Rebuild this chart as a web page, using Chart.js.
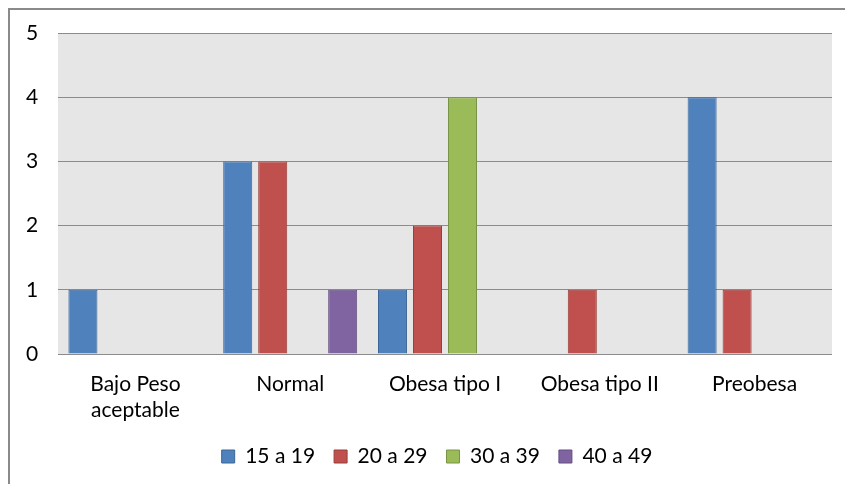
<!DOCTYPE html>
<html>
<head>
<meta charset="utf-8">
<script src="https://cdn.jsdelivr.net/npm/chart.js@4"></script>
<style>
html,body{margin:0;padding:0;background:#fff;overflow:hidden;}
#wrap{position:relative;width:845px;height:484px;}
#frame{position:absolute;left:8px;top:8px;width:900px;height:600px;border:2px solid #8a8a8a;box-sizing:border-box;}
canvas{position:absolute;left:0;top:0;}
</style>
</head>
<body>
<div id="wrap">
<div id="frame"></div>
<canvas id="c" width="845" height="484"></canvas>
</div>
<script>
const categories = [["Bajo Peso","aceptable"], "Normal", "Obesa tipo I", "Obesa tipo II", "Preobesa"];
const seriesNames = ["15 a 19", "20 a 29", "30 a 39", "40 a 49"];
const s15a19 = [1, 3, 1, 0, 4];
const s20a29 = [0, 3, 2, 1, 1];
const s30a39 = [0, 0, 4, 0, 0];
const s40a49 = [0, 1, 0, 0, 0];
const yTicks = [0, 1, 2, 3, 4, 5];

const fills = ["#4F81BD", "#C0504D", "#9BBB59", "#8064A2"];
const borders = ["#3C6698", "#9A3D3A", "#7A9447", "#654E82"];
const values = [s15a19, s20a29, s30a39, s40a49];

const plotBg = {
  id: 'plotBg',
  beforeDraw(chart) {
    const {ctx, chartArea: a} = chart;
    ctx.save();
    ctx.fillStyle = '#E6E6E6';
    ctx.fillRect(a.left, a.top, a.right - a.left, a.bottom - a.top);
    ctx.restore();
  }
};

const FONT = "Lato";
const FS = 21;
new Chart(document.getElementById('c'), {
  type: 'bar',
  data: {
    labels: categories,
    datasets: seriesNames.map((n, i) => ({
      label: n,
      data: values[i],
      backgroundColor: fills[i],
      borderColor: borders[i],
      borderWidth: 1,
      borderSkipped: 'bottom',
      categoryPercentage: 0.904,
      barPercentage: 0.83,
      yAxisID: 'y'
    }))
  },
  options: {
    responsive: false,
    animation: false,
    devicePixelRatio: 1,
    layout: { padding: { left: 29, right: 0, top: 33, bottom: 7 } },
    plugins: {
      legend: {
        position: 'bottom',
        labels: {
          font: { family: FONT, size: FS },
          color: '#000',
          boxWidth: 13,
          boxHeight: 13,
          padding: 19
        }
      },
      tooltip: { enabled: false }
    },
    scales: {
      x: {
        grid: { display: false },
        border: { display: false },
        ticks: {
          font: { family: FONT, size: FS, lineHeight: 1.24 },
          color: '#000',
          padding: 9,
          maxRotation: 0,
          autoSkip: false
        },
        afterFit(s) { s.height = 73; }
      },
      y: {
        position: 'left',
        min: 0, max: 5,
        afterBuildTicks(s) { s.ticks = yTicks.map(v => ({ value: v })); },
        grid: { color: '#8C8C8C', lineWidth: 1, drawTicks: false },
        border: { display: false },
        ticks: {
          font: { family: FONT, size: FS },
          color: '#000',
          mirror: true,
          padding: -32
        },
        afterFit(s) { s.width = 29; }
      },
      yRight: {
        position: 'right',
        min: 0, max: 5,
        grid: { display: false },
        border: { display: false },
        ticks: { display: false },
        afterFit(s) { s.width = 13; }
      }
    }
  },
  plugins: [plotBg]
});
</script>
</body>
</html>
